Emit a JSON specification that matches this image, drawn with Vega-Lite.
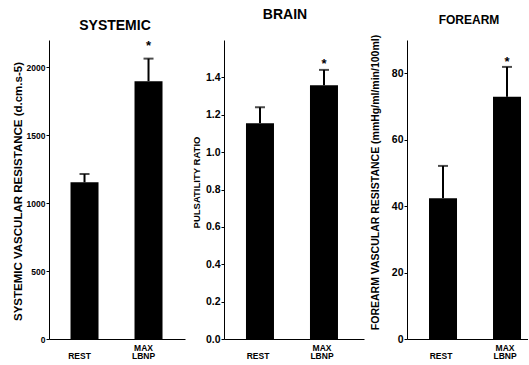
{
  "$schema": "https://vega.github.io/schema/vega-lite/v6.json",
  "background": "white",
  "padding": {"left": 12, "top": 8, "right": 0, "bottom": 0},
  "spacing": 6,
  "datasets": {
    "sys": [
      {"cond": "REST", "mean": 1153, "err": 1214, "sig": false},
      {"cond": "MAX LBNP", "mean": 1897, "err": 2063, "sig": true}
    ],
    "brain": [
      {"cond": "REST", "mean": 1.155, "err": 1.24, "sig": false},
      {"cond": "MAX LBNP", "mean": 1.358, "err": 1.44, "sig": true}
    ],
    "fore": [
      {"cond": "REST", "mean": 42.4, "err": 52.1, "sig": false},
      {"cond": "MAX LBNP", "mean": 72.9, "err": 81.9, "sig": true}
    ]
  },
  "hconcat": [
    {
      "width": 136,
      "height": 299,
      "data": {"name": "sys"},
      "title": {"text": "SYSTEMIC", "fontSize": 14, "offset": 7, "dx": -2},
      "encoding": {
        "x": {"field": "cond", "type": "nominal", "sort": null,
          "scale": {"paddingInner": 0.5625, "paddingOuter": 0.34375, "align": 0.489},
          "axis": {"title": null, "labelAngle": 0, "ticks": false, "labelFontSize": 8.5, "labelBaseline": "top", "labelPadding": 4, "labelExpr": "datum.label == 'REST' ? ['', 'REST'] : split(datum.label, ' ')", "labelLineHeight": 8.5, "labelOffset": -5}}
      },
      "layer": [
        {"mark": {"type": "bar", "color": "black"},
         "encoding": {"y": {"field": "mean", "type": "quantitative", "title": "SYSTEMIC VASCULAR RESISTANCE (d.cm.s-5)",
           "scale": {"domain": [0, 2200]},
           "axis": {"values": [0, 500, 1000, 1500, 2000], "format": "d", "tickSize": 3, "labelPadding": 1, "labelFontSize": 8.5, "titleFontSize": 11.5, "titleX": -31, "titleY": 151, "titleBaseline": "middle"}}}},
        {"mark": {"type": "rule", "color": "black", "strokeWidth": 2},
         "encoding": {"y": {"field": "mean", "type": "quantitative", "title": "SYSTEMIC VASCULAR RESISTANCE (d.cm.s-5)"}, "y2": {"field": "err"}}},
        {"mark": {"type": "tick", "color": "black", "size": 10, "thickness": 2},
         "encoding": {"y": {"field": "err", "type": "quantitative", "title": "SYSTEMIC VASCULAR RESISTANCE (d.cm.s-5)"}}},
        {"transform": [{"filter": "datum.sig"}],
         "mark": {"type": "text", "text": "*", "font": "Liberation Sans", "fontWeight": "bold", "fontSize": 13, "baseline": "middle", "dy": -13, "color": "black"},
         "encoding": {"y": {"field": "err", "type": "quantitative", "title": "SYSTEMIC VASCULAR RESISTANCE (d.cm.s-5)"}}}
      ]
    },
    {
      "width": 140,
      "height": 299,
      "data": {"name": "brain"},
      "title": {"text": "BRAIN", "fontSize": 14, "offset": 18, "dx": -9},
      "encoding": {
        "x": {"field": "cond", "type": "nominal", "sort": null,
          "scale": {"paddingInner": 0.5625, "paddingOuter": 0.375, "align": 0.458},
          "axis": {"title": null, "labelAngle": 0, "ticks": false, "labelFontSize": 8.5, "labelBaseline": "top", "labelPadding": 4, "labelExpr": "datum.label == 'REST' ? ['', 'REST'] : split(datum.label, ' ')", "labelLineHeight": 8.5, "labelOffset": -2}}
      },
      "layer": [
        {"mark": {"type": "bar", "color": "black"},
         "encoding": {"y": {"field": "mean", "type": "quantitative", "title": "PULSATILITY RATIO",
           "scale": {"domain": [0, 1.5]},
           "axis": {"values": [0, 0.2, 0.4, 0.6, 0.8, 1.0, 1.2, 1.4], "format": ".1f", "tickSize": 3, "labelPadding": 1, "labelFontSize": 10.5, "titleFontSize": 9.5, "titleX": -28, "titleY": 142, "titleBaseline": "middle"}}}},
        {"mark": {"type": "rule", "color": "black", "strokeWidth": 2},
         "encoding": {"y": {"field": "mean", "type": "quantitative", "title": "PULSATILITY RATIO"}, "y2": {"field": "err"}}},
        {"mark": {"type": "tick", "color": "black", "size": 10, "thickness": 2},
         "encoding": {"y": {"field": "err", "type": "quantitative", "title": "PULSATILITY RATIO"}}},
        {"transform": [{"filter": "datum.sig"}],
         "mark": {"type": "text", "text": "*", "font": "Liberation Sans", "fontWeight": "bold", "fontSize": 13, "baseline": "middle", "dy": -6, "color": "black"},
         "encoding": {"y": {"field": "err", "type": "quantitative", "title": "PULSATILITY RATIO"}}}
      ]
    },
    {
      "width": 121,
      "height": 299,
      "data": {"name": "fore"},
      "title": {"text": "FOREARM", "fontSize": 12, "offset": 7, "dx": 1.5},
      "encoding": {
        "x": {"field": "cond", "type": "nominal", "sort": null,
          "scale": {"paddingInner": 0.5625, "paddingOuter": 0.2266, "align": 0.759},
          "axis": {"title": null, "labelAngle": 0, "ticks": false, "labelFontSize": 8.5, "labelBaseline": "top", "labelPadding": 4, "labelExpr": "datum.label == 'REST' ? ['', 'REST'] : split(datum.label, ' ')", "labelLineHeight": 8.5, "labelOffset": -2}}
      },
      "layer": [
        {"mark": {"type": "bar", "color": "black"},
         "encoding": {"y": {"field": "mean", "type": "quantitative", "title": "FOREARM VASCULAR RESISTANCE (mmHg/ml/min/100ml)",
           "scale": {"domain": [0, 85]},
           "axis": {"values": [0, 10, 20, 30, 40, 50, 60, 70, 80], "tickSize": 3, "labelPadding": 1, "labelFontSize": 10.5, "titleFontSize": 10.5, "titleX": -32, "titleY": 142, "titleBaseline": "middle"}}}},
        {"mark": {"type": "rule", "color": "black", "strokeWidth": 2},
         "encoding": {"y": {"field": "mean", "type": "quantitative", "title": "FOREARM VASCULAR RESISTANCE (mmHg/ml/min/100ml)"}, "y2": {"field": "err"}}},
        {"mark": {"type": "tick", "color": "black", "size": 10, "thickness": 2},
         "encoding": {"y": {"field": "err", "type": "quantitative", "title": "FOREARM VASCULAR RESISTANCE (mmHg/ml/min/100ml)"}}},
        {"transform": [{"filter": "datum.sig"}],
         "mark": {"type": "text", "text": "*", "font": "Liberation Sans", "fontWeight": "bold", "fontSize": 13, "baseline": "middle", "dy": -5, "color": "black"},
         "encoding": {"y": {"field": "err", "type": "quantitative", "title": "FOREARM VASCULAR RESISTANCE (mmHg/ml/min/100ml)"}}}
      ]
    }
  ],
  "config": {
    "view": {"stroke": null},
    "axis": {"labelFont": "Liberation Sans", "titleFont": "Liberation Sans", "labelFontWeight": "bold", "titleFontWeight": "bold", "labelColor": "black", "titleColor": "black", "domainColor": "black", "tickColor": "black", "grid": false, "domainWidth": 1},
    "title": {"font": "Liberation Sans", "fontWeight": "bold", "color": "black", "anchor": "middle"}
  }
}
